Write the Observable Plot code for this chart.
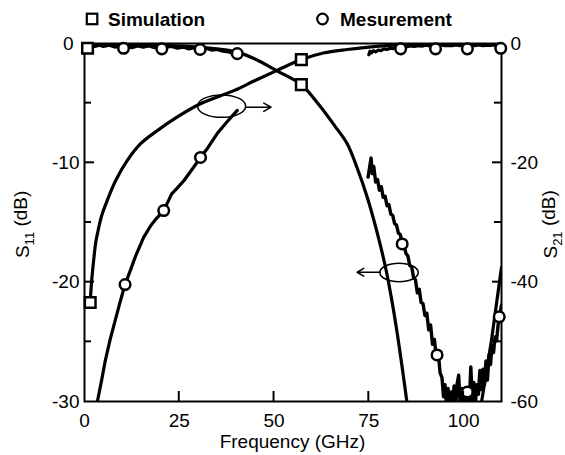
<!DOCTYPE html>
<html><head><meta charset="utf-8">
<script src="https://cdn.jsdelivr.net/npm/d3@7"></script>
<script src="https://cdn.jsdelivr.net/npm/@observablehq/plot@0.6"></script>
<style>
body{margin:0;background:#fff;}
#wrap{position:relative;width:565px;height:455px;font-family:"Liberation Sans",Arial,sans-serif;}
#legend{position:absolute;top:0;left:0;}
</style></head><body><div id="wrap"></div>
<script>
// ---------- data (S11 in dB on left axis, S21 in dB on right axis) ----------
// Simulated S11
const simS11X = [0.8, 5, 10, 15, 20, 25, 30, 35, 40, 45, 50.8, 57.2, 62, 66, 69.3, 72, 74.6, 77, 79.4, 81, 82.5, 84, 85.2];
const simS11Y = [-0.4, -0.1, -0.1, -0.12, -0.15, -0.2, -0.3, -0.45, -0.7, -1.3, -2.3, -3.45, -5.2, -6.9, -8.4, -10.5, -12.9, -15.6, -18.75, -21.4, -24.3, -27.6, -30.4];
const simS11HiX = [104.6, 107.3, 110];
const simS11HiY = [-30.3, -25.0, -18.75];
// Simulated S21
const simS21X = [1.5, 1.9, 2.4, 3.0, 3.5, 4.5, 6.0, 8.2, 11.3, 14.8, 19.2, 24.5, 30.6, 39.4, 45, 50.8, 57.2, 63, 69.3, 75, 80, 90, 100, 110];
const simS21Y = [-43.4, -39.7, -36.4, -33.2, -31.6, -28.9, -26.3, -23, -19.6, -16.8, -14.6, -12.3, -10.1, -7.9, -6.2, -4.5, -2.7, -1.6, -1.0, -0.6, -0.35, -0.15, -0.05, 0];
// Measured S11, 0-40 GHz band
const measS11LoX = [0.5, 2, 3.5, 5, 6.5, 8, 9.5, 11, 12.5, 14, 15.5, 17, 18.5, 20, 21.5, 23, 24.5, 26, 27.5, 29, 30.5, 32, 33.5, 35, 36.5, 38, 39.2, 40.3];
const measS11LoY = [-0.15, -0.3, -0.1, -0.25, -0.15, -0.3, -0.2, -0.15, -0.35, -0.2, -0.3, -0.2, -0.35, -0.25, -0.3, -0.25, -0.4, -0.3, -0.45, -0.35, -0.45, -0.4, -0.55, -0.5, -0.65, -0.7, -0.85, -1.0];
// Measured S11, 75-110 GHz band
const measS11HiX = [74.8, 75.2, 75.6, 75.9, 76.3, 76.8, 77.3, 77.8, 78.3, 78.8, 79.3, 79.8, 80.3, 80.8, 81.3, 81.8, 82.3, 82.8, 83.3, 83.8, 84.3, 84.8, 85.3, 85.8, 86.3, 86.8, 87.3, 87.8, 88.3, 88.8, 89.3, 89.8, 90.3, 90.8, 91.3, 91.8, 92.3, 92.8, 93.3, 93.8, 94.3, 94.7, 95.1, 95.5, 95.9, 96.3, 96.7, 97.1, 97.5, 97.9, 98.3, 98.7, 99.1, 99.5, 99.9, 100.3, 100.7, 101.1, 101.5, 101.9, 102.3, 102.7, 103.1, 103.5, 103.9, 104.3, 104.7, 105.1, 105.5, 105.9, 106.3, 106.7, 107.1, 107.5, 107.9, 108.3, 108.7, 109.1, 109.5, 110];
const measS11HiY = [-11.2, -10.4, -9.6, -10.9, -10.3, -11.6, -11.4, -12.3, -12.0, -12.9, -12.8, -13.6, -13.5, -14.3, -14.4, -15.1, -15.2, -15.9, -16.0, -16.8, -16.9, -17.6, -17.8, -18.6, -18.7, -19.6, -19.8, -20.9, -20.6, -21.7, -21.8, -22.8, -22.6, -24.0, -23.6, -25.2, -24.8, -26.3, -25.8, -27.6, -28.0, -29.6, -28.6, -30.3, -28.9, -30.4, -29.2, -30.2, -28.7, -30.4, -28.5, -27.8, -30.3, -28.9, -30.4, -29.0, -30.1, -29.3, -30.3, -27.1, -29.9, -28.4, -30.2, -28.6, -29.4, -27.4, -29.0, -27.3, -28.6, -26.6, -28.2, -26.1, -26.9, -25.3, -25.9, -24.6, -24.9, -23.6, -22.9, -21.9];
// Measured S21, 0-40 GHz band
const measS21LoX = [3.4, 4.5, 5.5, 6.8, 8.1, 9.4, 10.7, 12, 13.5, 15.6, 17.5, 19, 20.9, 23, 24.5, 26.2, 28.5, 30.6, 32.5, 35, 37.5, 40.3];
const measS21LoY = [-60, -56.5, -53.1, -49.5, -46.4, -43.3, -40.4, -38.2, -35.6, -32.5, -30.5, -29.3, -28, -25.2, -24.2, -23, -21, -19.1, -17.5, -15.1, -13.2, -11.2];
// Measured S21, 75-110 GHz band
const measS21HiX = [75.0, 75.3, 75.7, 76.2, 76.8, 77.5, 78.2, 79, 79.8, 80.6, 81.4, 82.2, 83, 84, 85, 86, 87, 88, 89, 90, 91, 92, 93, 94, 95, 96, 97, 98, 99, 100, 101, 102, 103, 104, 105, 106, 107, 108, 109, 110];
const measS21HiY = [-1.9, -1.3, -1.6, -1.2, -1.4, -1.1, -1.2, -0.9, -1.0, -0.8, -0.85, -0.65, -0.7, -0.5, -0.55, -0.4, -0.5, -0.35, -0.45, -0.3, -0.4, -0.3, -0.4, -0.25, -0.35, -0.3, -0.35, -0.25, -0.35, -0.3, -0.4, -0.3, -0.35, -0.25, -0.35, -0.3, -0.3, -0.25, -0.3, -0.3];
// Markers
const sqS11X = [0.8, 57.2], sqS11Y = [-0.4, -3.45];
const sqS21X = [1.5, 57.2], sqS21Y = [-43.4, -2.7];
const ciS11X = [10.3, 20.4, 30.5, 40.3, 83.8, 93.0, 101.0, 109.4];
const ciS11Y = [-0.4, -0.45, -0.5, -0.85, -16.8, -26.1, -29.2, -22.9];
const ciS21X = [10.7, 20.9, 30.6, 83.4, 92.6, 101.0, 109.8];
const ciS21Y = [-40.4, -28.0, -19.1, -0.9, -0.9, -0.9, -0.8];
// Axis ticks
const xTicks = [0, 25, 50, 75, 100];
const yLeftTicks = [0, -10, -20, -30];
const yLeftMinor = [-5, -15, -25];
const yRightTicks = [0, -20, -40, -60];
const yRightMinor = [-10, -30, -50];
// Annotations (ellipse center / radii in data units, arrows)
const ellCX = [36.3, 83.1], ellCY = [-5.29, -19.23], ellRX = [6.33, 5.07], ellRY = [0.94, 0.77];
const arrX1 = [42.6, 78.0], arrX2 = [49.2, 71.9], arrY = [-5.34, -19.17];

// ---------- build ----------
const R = 2; // right axis dB per left axis dB
const pts = (xs, ys) => xs.map((x, i) => ({x, y: ys[i]}));
const toL = d => d.y / R;
const fs = 19;

const chart = Plot.plot({
  width: 565, height: 455,
  marginLeft: 84, marginRight: 64, marginTop: 43, marginBottom: 54,
  x: {domain: [0, 110]},
  y: {domain: [-30, 0]},
  style: {fontFamily: "'Liberation Sans', Arial, sans-serif", fontSize: fs + "px", color: "black", background: "white"},
  marks: [
    // axes: labels
    Plot.axisX({ticks: xTicks, tickSize: 0, tickPadding: 12, tickFormat: d => String(d), label: null}),
    Plot.axisY({anchor: "left", ticks: [0], tickSize: 0, tickPadding: 11, tickFormat: d => String(d), label: null}),
    Plot.axisY({anchor: "left", ticks: yLeftTicks.slice(1), tickSize: 0, tickPadding: 5, tickFormat: d => String(d), label: null}),
    Plot.axisY({anchor: "right", ticks: yRightTicks.map(v => v / R), tickSize: 0, tickPadding: 9, tickFormat: d => String(d * R), label: null}),
    // curves
    Plot.line(pts(simS11X, simS11Y), {x: "x", y: "y", strokeWidth: 3.2, curve: "catmull-rom", clip: true}),
    Plot.line(pts(simS11HiX, simS11HiY), {x: "x", y: "y", strokeWidth: 3.2, clip: true}),
    Plot.line(pts(simS21X, simS21Y), {x: "x", y: toL, strokeWidth: 3.2, curve: "catmull-rom", clip: true}),
    Plot.line(pts(measS11LoX, measS11LoY), {x: "x", y: "y", strokeWidth: 3.2, clip: true}),
    Plot.line(pts(measS11HiX, measS11HiY), {x: "x", y: "y", strokeWidth: 3.4, clip: true}),
    Plot.line(pts(measS21LoX, measS21LoY), {x: "x", y: toL, strokeWidth: 3.2, clip: true}),
    Plot.line(pts(measS21HiX, measS21HiY), {x: "x", y: toL, strokeWidth: 3.2, clip: true}),
    Plot.frame({strokeWidth: 2}),
    // markers
    Plot.dot(pts(sqS11X, sqS11Y), {x: "x", y: "y", symbol: "square", r: 6, stroke: "black", fill: "white", strokeWidth: 2.5}),
    Plot.dot(pts(sqS21X, sqS21Y), {x: "x", y: toL, symbol: "square", r: 6, stroke: "black", fill: "white", strokeWidth: 2.5}),
    Plot.dot(pts(ciS11X, ciS11Y), {x: "x", y: "y", r: 5.3, stroke: "black", fill: "white", strokeWidth: 2.5}),
    Plot.dot(pts(ciS21X, ciS21Y), {x: "x", y: toL, r: 5.3, stroke: "black", fill: "white", strokeWidth: 2.5}),
    // annotation arrows
    Plot.arrow(arrX1.map((x1, i) => ({x1, x2: arrX2[i], y: arrY[i]})), {x1: "x1", x2: "x2", y1: "y", y2: "y", strokeWidth: 1.5, headLength: 13, headAngle: 60})
  ]
});

const svg = d3.select(chart);
const sx = chart.scale("x"), sy = chart.scale("y");
const [x0, x1] = sx.range, [y0, y1] = sy.range; // x0 left, x1 right, y0 bottom, y1 top
// inward ticks, placed with the chart's scales
const tg = svg.append("g").attr("stroke", "black").attr("stroke-width", 2);
xTicks.slice(1).forEach(v => tg.append("line").attr("x1", sx.apply(v)).attr("x2", sx.apply(v)).attr("y1", Math.max(y0, y1)).attr("y2", Math.max(y0, y1) - 10));
const xl = Math.min(x0, x1), xr = Math.max(x0, x1);
yLeftTicks.slice(1, 3).forEach(v => tg.append("line").attr("y1", sy.apply(v)).attr("y2", sy.apply(v)).attr("x1", xl).attr("x2", xl + 10));
yLeftMinor.forEach(v => tg.append("line").attr("y1", sy.apply(v)).attr("y2", sy.apply(v)).attr("x1", xl).attr("x2", xl + 7));
yRightTicks.slice(1, 3).forEach(v => tg.append("line").attr("y1", sy.apply(v / R)).attr("y2", sy.apply(v / R)).attr("x1", xr).attr("x2", xr - 9));
yRightMinor.forEach(v => tg.append("line").attr("y1", sy.apply(v / R)).attr("y2", sy.apply(v / R)).attr("x1", xr).attr("x2", xr - 7));
// annotation ellipses
ellCX.forEach((cx, i) => {
  svg.append("ellipse")
    .attr("cx", sx.apply(cx)).attr("cy", sy.apply(ellCY[i]))
    .attr("rx", Math.abs(sx.apply(cx + ellRX[i]) - sx.apply(cx)))
    .attr("ry", Math.abs(sy.apply(ellCY[i] + ellRY[i]) - sy.apply(ellCY[i])))
    .attr("fill", "none").attr("stroke", "black").attr("stroke-width", 1.5);
});
// axis titles
function yTitle(x, sub) {
  const t = svg.append("text")
    .attr("transform", `translate(${x},${sy.apply(-15.2)}) rotate(-90)`)
    .attr("text-anchor", "middle").attr("font-size", fs).attr("fill", "black");
  t.append("tspan").text("S");
  t.append("tspan").attr("font-size", 13).attr("dy", "0.35em").text(sub);
  t.append("tspan").attr("dy", "-0.35em").attr("font-size", fs).text(" (dB)");
}
yTitle(29, "11");
yTitle(557, "21");
svg.append("text").attr("x", (sx.apply(0) + sx.apply(110)) / 2).attr("y", 448)
  .attr("text-anchor", "middle").attr("font-size", fs).attr("fill", "black").text("Frequency (GHz)");

const wrap = document.getElementById("wrap");
wrap.appendChild(chart);

// legend (above the plot area)
const lg = d3.select(wrap).append("svg").attr("id", "legend").attr("width", 565).attr("height", 38);
lg.append("rect").attr("x", 86.8).attr("y", 13.7).attr("width", 10.5).attr("height", 10.5)
  .attr("fill", "none").attr("stroke", "black").attr("stroke-width", 2.2);
lg.append("text").attr("x", 108).attr("y", 26).attr("font-size", 19).attr("font-weight", "bold")
  .attr("font-family", "'Liberation Sans', Arial, sans-serif").text("Simulation");
lg.append("circle").attr("cx", 322.5).attr("cy", 19).attr("r", 5.3)
  .attr("fill", "none").attr("stroke", "black").attr("stroke-width", 2.2);
lg.append("text").attr("x", 340).attr("y", 26).attr("font-size", 19).attr("font-weight", "bold")
  .attr("font-family", "'Liberation Sans', Arial, sans-serif").text("Mesurement");
</script></body></html>
